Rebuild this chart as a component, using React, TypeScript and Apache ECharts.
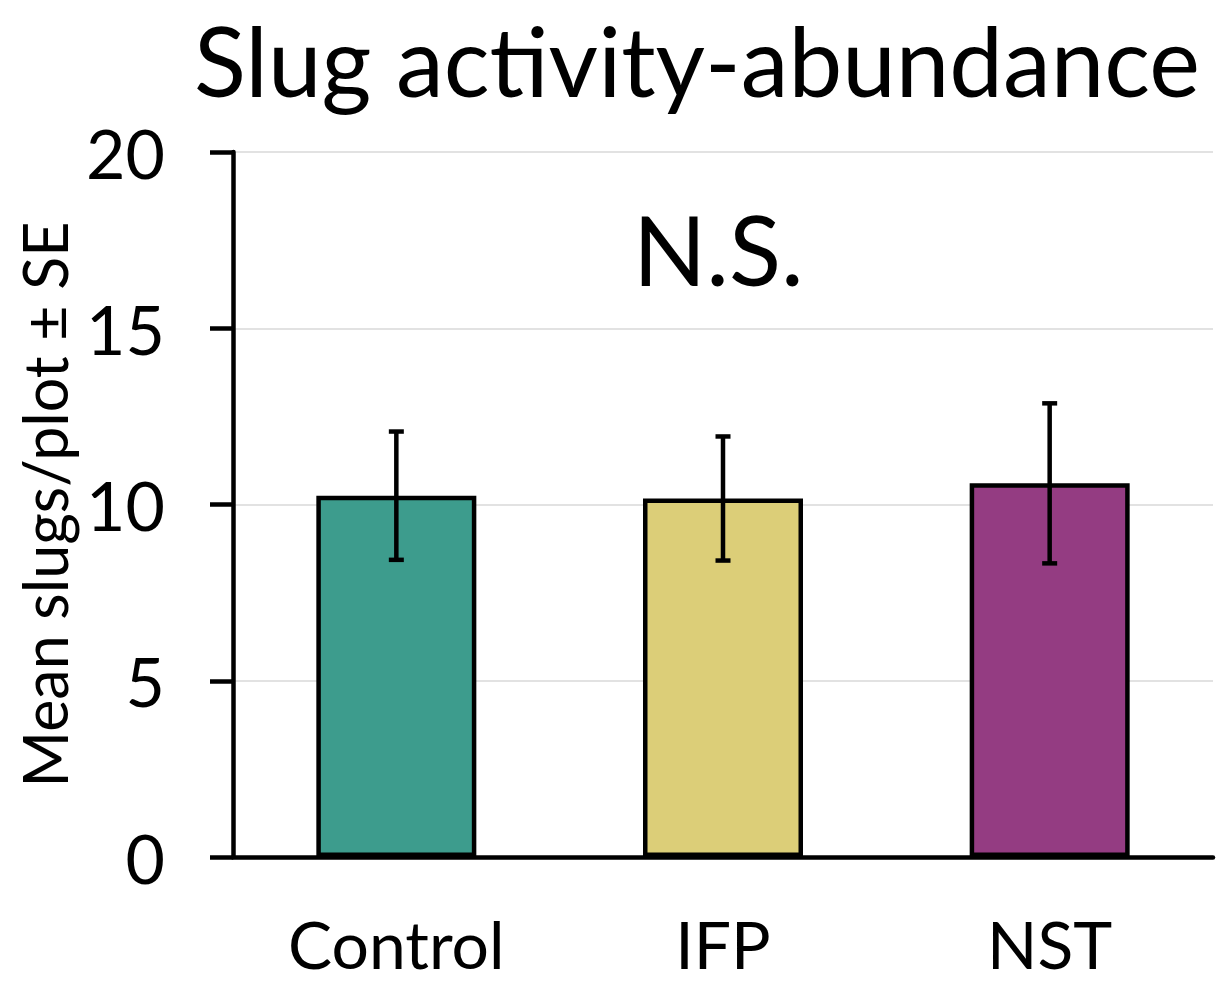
import React, { useEffect, useRef } from "react";
import * as echarts from "echarts";

const categories = ["Control", "IFP", "NST"];
const means = [10.25, 10.17, 10.6];
const errors = [1.82, 1.76, 2.27];
const colors = ["#3D9C8D", "#DCCE78", "#943C82"];
const yTicks = [0, 5, 10, 15, 20];
const titleText = "Slug activity-abundance";
const yAxisTitle = "Mean slugs/plot ± SE";
const annotation = "N.S.";

const FONT = "Lato";

export default function App() {
  const ref = useRef<HTMLDivElement>(null);
  useEffect(() => {
    if (!ref.current) return;
    const chart = echarts.init(ref.current, null, { renderer: "svg" });
    const errData = categories.map((c, i) => [i, means[i] - errors[i], means[i] + errors[i]]);
    chart.setOption({
      animation: false,
      textStyle: { fontFamily: FONT },
      title: {
        text: titleText,
        left: 692,
        top: 6,
        textAlign: "center",
        textStyle: { fontFamily: FONT, fontSize: 96, fontWeight: "normal", color: "#000" },
      },
      grid: {
        left: 233,
        right: 10,
        top: 152,
        bottom: 125,
        containLabel: false,
        outerBoundsMode: "none",
      },
      xAxis: {
        type: "category",
        data: categories,
        axisLine: { lineStyle: { color: "#000", width: 4.5 } },
        axisTick: { show: false },
        axisLabel: { fontFamily: FONT, fontSize: 66, lineHeight: 56, color: "#000", margin: 58 },
      },
      yAxis: {
        type: "value",
        min: 0,
        max: 20,
        interval: 5,
        name: yAxisTitle,
        nameLocation: "middle",
        nameGap: 152,
        nameTextStyle: { fontFamily: FONT, fontSize: 61, color: "#000" },
        axisLine: { show: true, lineStyle: { color: "#000", width: 4.5 } },
        axisTick: { show: true, length: 23, lineStyle: { color: "#000", width: 4.5 } },
        axisLabel: {
          fontFamily: FONT,
          fontSize: 68,
          color: "#000",
          margin: 68,
          formatter: (v: number) => (yTicks.includes(v) ? String(v) : ""),
        },
        splitLine: { show: true, lineStyle: { color: "#D9D9D9", width: 1.5 } },
      },
      graphic: [
        {
          type: "text",
          left: 633,
          top: 200,
          style: { text: annotation, fontFamily: FONT, fontSize: 96, fill: "#000" },
        },
      ],
      series: [
        {
          type: "bar",
          barWidth: 160,
          data: means.map((v, i) => ({
            value: v,
            itemStyle: { color: colors[i], borderColor: "#000", borderWidth: 4.5 },
          })),
        },
        {
          type: "custom",
          data: errData,
          z: 10,
          renderItem: (params: any, api: any) => {
            const x = api.value(0);
            const lo = api.coord([x, api.value(1)]);
            const hi = api.coord([x, api.value(2)]);
            const cap = 7.5;
            const style = { stroke: "#000", lineWidth: 4.5 };
            return {
              type: "group",
              children: [
                { type: "line", shape: { x1: lo[0], y1: lo[1], x2: hi[0], y2: hi[1] }, style },
                { type: "line", shape: { x1: hi[0] - cap, y1: hi[1], x2: hi[0] + cap, y2: hi[1] }, style },
                { type: "line", shape: { x1: lo[0] - cap, y1: lo[1], x2: lo[0] + cap, y2: lo[1] }, style },
              ],
            };
          },
        },
      ],
    });
    return () => chart.dispose();
  }, []);
  return (
    <div
      ref={ref}
      style={{ position: "absolute", left: 0, top: 0, width: 1223, height: 982 }}
    />
  );
}
